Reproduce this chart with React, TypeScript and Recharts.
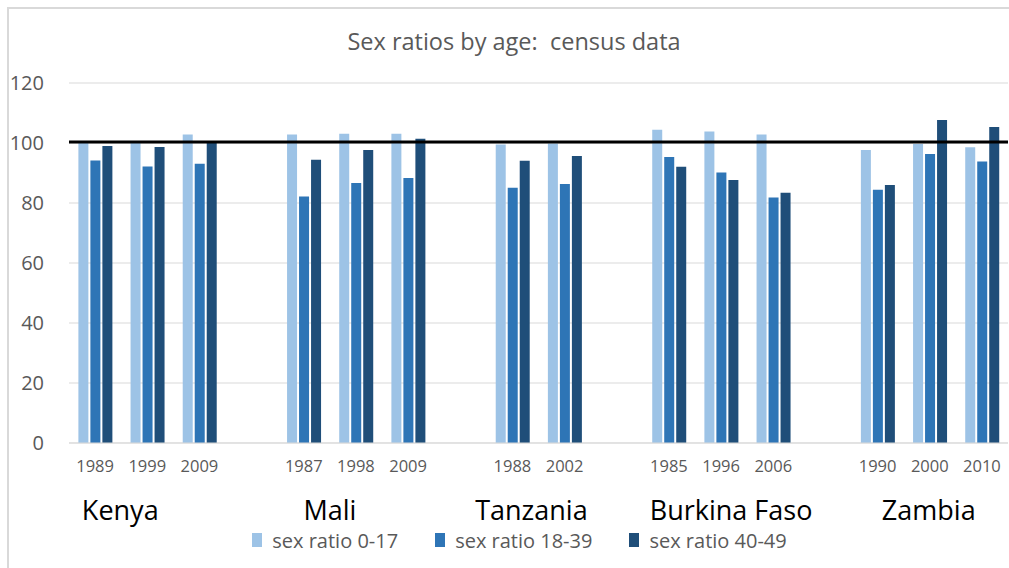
import React from 'react';
import { BarChart, Bar, XAxis, YAxis, CartesianGrid, ReferenceLine, Legend } from 'recharts';

const years = ['1989', '1999', '2009', '', '1987', '1998', '2009', '', '1988', '2002', '', '1985', '1996', '2006', '', '1990', '2000', '2010'];
const ratio0to17 = [100.5, 100.4, 102.8, null, 102.8, 103.1, 103.1, null, 99.5, 99.8, null, 104.4, 103.8, 102.8, null, 97.7, 99.7, 98.6];
const ratio18to39 = [94.2, 92.2, 93.1, null, 82.2, 86.7, 88.3, null, 85.1, 86.3, null, 95.3, 90.2, 81.8, null, 84.4, 96.3, 93.8];
const ratio40to49 = [99.0, 98.7, 100.0, null, 94.4, 97.7, 101.4, null, 94.1, 95.7, null, 92.1, 87.7, 83.4, null, 86.0, 107.7, 105.3];
const countries = ['Kenya', 'Mali', 'Tanzania', 'Burkina Faso', 'Zambia'];
const countryAnchorIndex = [1, 5, 8, 12, 16];
const yTicks = [0, 20, 40, 60, 80, 100, 120];
const parityLevel = 100.3;

const seriesNames = ['sex ratio 0-17', 'sex ratio 18-39', 'sex ratio 40-49'];
const seriesColors = ['#9DC3E6', '#2E75B6', '#1F4E79'];
const countryShift = [-27, -26, 19, 10, -1];

const FONT = '"Open Sans", sans-serif';

const data = years.map((y, i) => ({
  key: `s${i}`,
  year: y,
  a: ratio0to17[i],
  b: ratio18to39[i],
  c: ratio40to49[i],
}));

const YearTick = (props: any) => {
  const { x, y, payload } = props;
  const idx = payload.index;
  const ci = countryAnchorIndex.indexOf(idx);
  return (
    <g>
      <text x={x} y={y + 29} textAnchor="middle" fontFamily={FONT} fontSize={16.5} fill="#595959">
        {years[idx]}
      </text>
      {ci >= 0 && (
        <text x={x + countryShift[ci]} y={y + 77} textAnchor="middle" fontFamily={FONT} fontSize={27} fill="#000">
          {countries[ci]}
        </text>
      )}
    </g>
  );
};

const LegendContent = () => (
  <div
    style={{
      display: 'flex',
      justifyContent: 'center',
      alignItems: 'center',
      height: 20,
      paddingLeft: 31,
      fontFamily: FONT,
      fontSize: 20,
      color: '#595959',
      whiteSpace: 'nowrap',
    }}
  >
    {seriesNames.map((n, i) => (
      <div key={n} style={{ display: 'flex', alignItems: 'center', marginLeft: i ? 37 : 0 }}>
        <span style={{ display: 'inline-block', width: 10, height: 14, background: seriesColors[i], marginRight: 10 }} />
        <span>{n}</span>
      </div>
    ))}
  </div>
);

export default function App() {
  return (
    <div style={{ position: 'absolute', left: 0, top: 0, width: 1009, height: 568, background: '#fff', overflow: 'hidden' }}>
      <div
        style={{
          position: 'absolute',
          left: 7,
          top: 7,
          width: 1000,
          height: 559,
          borderLeft: '2px solid #d9d9d9',
          borderTop: '2px solid #d9d9d9',
        }}
      />
      <svg width={1009} height={70} style={{ position: 'absolute', left: 0, top: 0 }}>
        <text x={514} y={50} textAnchor="middle" fontFamily={FONT} fontSize={23.5} fill="#595959">
          Sex ratios by age:{'\u00a0\u00a0'}census data
        </text>
      </svg>
      <div style={{ position: 'absolute', left: 0, top: 0 }}>
        <BarChart
          width={1009}
          height={568}
          data={data}
          margin={{ top: 83, right: 1, bottom: 18, left: 0 }}
          barCategoryGap="18%"
          barGap={2}
        >
          <CartesianGrid horizontal vertical={false} stroke="#d9d9d9" strokeWidth={1} />
          <XAxis
            dataKey="key"
            height={87}
            axisLine={{ stroke: '#d9d9d9' }}
            tickLine={false}
            tickSize={0}
            tickMargin={0}
            interval={0}
            tick={<YearTick />}
          />
          <YAxis
            width={69}
            domain={[0, 120]}
            ticks={yTicks}
            axisLine={false}
            tickLine={false}
            tickSize={0}
            tickMargin={25}
            tick={{ fontFamily: FONT, fontSize: 20, fill: '#595959' }}
          />
          <Legend verticalAlign="bottom" content={<LegendContent />} />
          <Bar dataKey="a" name={seriesNames[0]} fill={seriesColors[0]} isAnimationActive={false} />
          <Bar dataKey="b" name={seriesNames[1]} fill={seriesColors[1]} isAnimationActive={false} />
          <Bar dataKey="c" name={seriesNames[2]} fill={seriesColors[2]} isAnimationActive={false} />
          <ReferenceLine y={parityLevel} stroke="#000" strokeWidth={3} />
        </BarChart>
      </div>
    </div>
  );
}
